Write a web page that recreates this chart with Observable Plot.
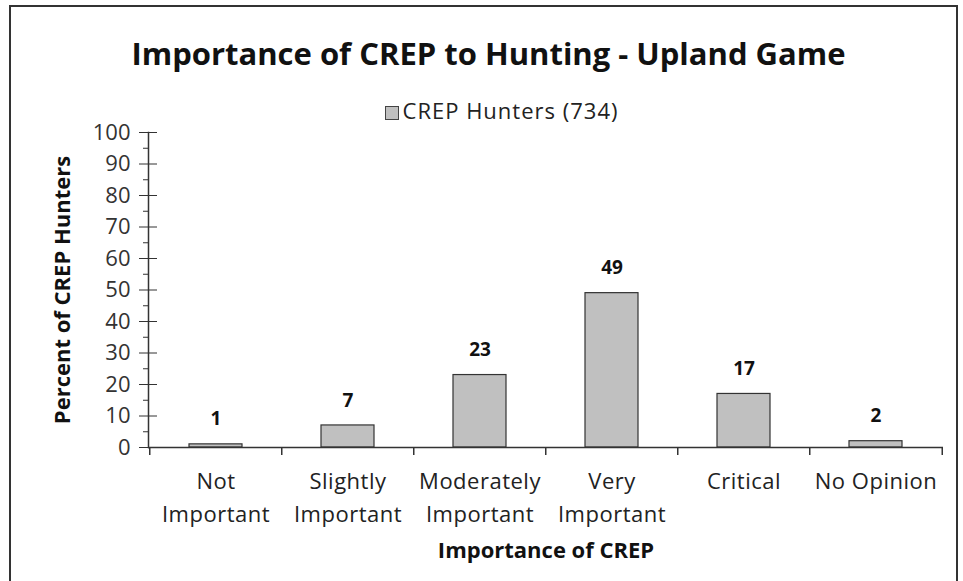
<!DOCTYPE html>
<html>
<head>
<meta charset="utf-8">
<script src="https://cdn.jsdelivr.net/npm/d3@7"></script>
<script src="https://cdn.jsdelivr.net/npm/@observablehq/plot@0.6"></script>
<style>
  html, body { margin: 0; padding: 0; background: #fff; }
  #wrap { position: relative; width: 963px; height: 581px; overflow: hidden; font-family: "Open Sans", sans-serif; color: #111; }
  #border { position: absolute; left: 9px; top: 5px; width: 949px; height: 600px; border: 2px solid #333; box-sizing: border-box; }
  #title { position: absolute; left: 7px; width: 963px; top: 32px; text-align: center; font-weight: bold; font-size: 31px; line-height: 42px; }
  #legend { position: absolute; left: 20px; width: 963px; top: 95px; text-align: center; font-size: 22px; letter-spacing: 1px; line-height: 30px; color: #222; }
  #legend .sw { display: inline-block; width: 12px; height: 12px; background: #c0c0c0; border: 1px solid #444; margin-right: 4px; vertical-align: -1px; }
  #chart { position: absolute; left: 0; top: 0; }
  #chart svg g[aria-label="x-axis tick label"] { letter-spacing: 0.5px; }
</style>
</head>
<body>
<div id="wrap">
  <div id="border"></div>
  <div id="title">Importance of CREP to Hunting - Upland Game</div>
  <div id="legend"><span class="sw"></span>CREP Hunters (734)</div>
  <div id="chart"></div>
</div>
<script>
const categories = ["Not\nImportant", "Slightly\nImportant", "Moderately\nImportant", "Very\nImportant", "Critical", "No Opinion"];
const values = [1, 7, 23, 49, 17, 2];
const yMajorTicks = [0, 10, 20, 30, 40, 50, 60, 70, 80, 90, 100];
const yMinorTicks = [5, 15, 25, 35, 45, 55, 65, 75, 85, 95];
const yLabel = "Percent of CREP Hunters";
const xLabel = "Importance of CREP";

const data = categories.map((c, i) => ({category: c, value: values[i]}));

const W = 963, H = 581, ml = 148, mr = 20, mt = 132, mb = 134;
const step = (W - ml - mr) / categories.length;

const plot = Plot.plot({
  width: W,
  height: H,
  marginLeft: ml,
  marginRight: mr,
  marginTop: mt,
  marginBottom: mb,
  style: {fontFamily: "Open Sans, sans-serif", background: "transparent", color: "#222"},
  x: {domain: categories, paddingInner: 0.6, paddingOuter: 0.3, label: null},
  y: {domain: [0, 100], label: null},
  marks: [
    Plot.barY(data, {x: "category", y: "value", fill: "#c0c0c0", stroke: "#333", strokeWidth: 1.2}),
    Plot.text(data, {x: "category", y: "value", text: d => String(d.value), dy: -25, fontWeight: "bold", fontSize: 19, fill: "#111"}),
    Plot.axisY({ticks: yMajorTicks, tickSize: 9, tickPadding: 9, fontSize: 22, stroke: "#333", fill: "#333", label: null}),
    Plot.axisY({ticks: yMajorTicks, tickSize: -9, text: null, stroke: "#333", label: null}),
    Plot.axisY({ticks: yMinorTicks, tickSize: 5, text: null, stroke: "#333", label: null}),
    Plot.axisX({tickSize: 0, tickPadding: 18, fontSize: 22, lineHeight: 1.5, fill: "#222", label: null}),
    Plot.ruleX(categories, {x: d => d, y1: 0, y2: 0, insetBottom: -8, dx: -step / 2, stroke: "#333", strokeWidth: 1.5}),
    Plot.ruleX(categories.slice(-1), {x: d => d, y1: 0, y2: 0, insetBottom: -8, dx: step / 2, stroke: "#333", strokeWidth: 1.5}),
    Plot.frame({anchor: "left", stroke: "#333", strokeWidth: 1.5}),
    Plot.ruleY([0], {stroke: "#333", strokeWidth: 1.5}),
    Plot.text([yLabel], {frameAnchor: "left", textAnchor: "middle", lineAnchor: "middle", rotate: -90, dx: -86, dy: 0, fontWeight: "bold", fontSize: 22, fill: "#111"}),
    Plot.text([xLabel], {frameAnchor: "bottom", lineAnchor: "middle", dy: 103, fontWeight: "bold", fontSize: 22, fill: "#111"})
  ]
});
document.getElementById("chart").appendChild(plot);
</script>
</body>
</html>
